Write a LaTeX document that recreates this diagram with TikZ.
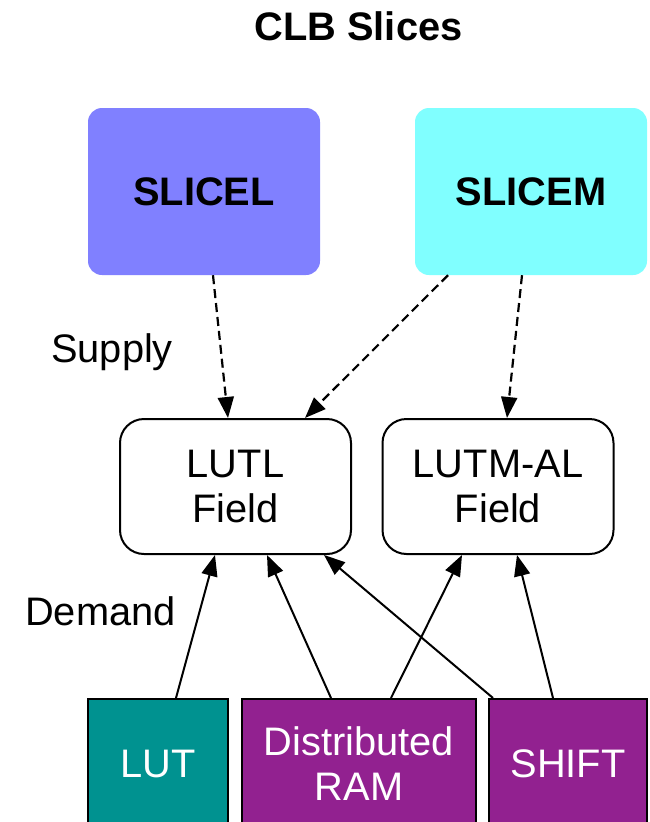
\documentclass[tikz,border=0pt]{standalone}
\usepackage{fontspec}
\setmainfont{Liberation Sans}
\usetikzlibrary{arrows.meta,calc}

\definecolor{slicelfill}{RGB}{128,128,255}
\definecolor{slicemfill}{RGB}{128,255,255}
\definecolor{lutfill}{RGB}{0,146,144}
\definecolor{ramfill}{RGB}{146,33,144}

\begin{document}
\begin{tikzpicture}[x=1pt,y=-1pt,
  txt/.style={font=\fontsize{39.8}{45}\selectfont},
  boldtxt/.style={font=\bfseries\fontsize{39.8}{45}\selectfont},
  slicebox/.style={rounded corners=14pt, minimum width=232pt, minimum height=167pt,
    inner sep=0pt, boldtxt},
  fieldbox/.style={draw, line width=2pt, rounded corners=24pt, fill=white,
    minimum width=231pt, minimum height=135pt, align=center, inner sep=0pt, txt},
  resbox/.style={draw, line width=2pt, minimum height=130pt, inner sep=0pt,
    text=white, align=center, txt},
  supplyarrow/.style={-{Triangle[length=21pt,width=16pt]}, line width=2.2pt,
    dash pattern=on 9pt off 5pt},
  demandarrow/.style={-{Triangle[length=21pt,width=16pt]}, line width=2pt},
]
\useasboundingbox (0,0) rectangle (649,822);

% heading
\node[boldtxt, anchor=base] (title) at (358.5,40) {CLB Slices};

% slice types
\node[slicebox, fill=slicelfill] (slicel) at (204,191.5) {SLICEL};
\node[slicebox, fill=slicemfill] (slicem) at (531,191.5) {SLICEM};

% LUT fields
\node[fieldbox] (lutl) at (235.5,486.5) {LUTL\\Field};
\node[fieldbox] (lutm) at (498,486.5) {LUTM-AL\\Field};

% resource kinds
\node[resbox, fill=lutfill, minimum width=140pt] (lut) at (158,764) {LUT};
\node[resbox, fill=ramfill, minimum width=234pt] (dram) at (359,764) {Distributed\\RAM};
\node[resbox, fill=ramfill, minimum width=158pt] (shift) at (568,764) {SHIFT};

% side labels
\node[txt, anchor=base west, inner sep=0pt] (supply) at (51,362) {Supply};
\node[txt, anchor=base west, inner sep=0pt] (demand) at (25,625) {Demand};

% supply edges
\draw[supplyarrow] ([xshift=9pt]slicel.south) -- ([xshift=-7.5pt]lutl.north);
\draw[supplyarrow] ([xshift=-83pt]slicem.south) -- ([xshift=69.5pt]lutl.north);
\draw[supplyarrow] ([xshift=-9pt]slicem.south) -- ([xshift=9pt]lutm.north);

% demand edges
\draw[demandarrow] ([xshift=18pt]lut.north) -- ([xshift=-20.5pt]lutl.south);
\draw[demandarrow] ([xshift=-28pt]dram.north) -- ([xshift=31.5pt]lutl.south);
\draw[demandarrow] ([xshift=32pt]dram.north) -- ([xshift=-36pt]lutm.south);
\draw[demandarrow] ([xshift=-75pt]shift.north) -- ([xshift=88.5pt]lutl.south);
\draw[demandarrow] ([xshift=-15pt]shift.north) -- ([xshift=19pt]lutm.south);
\end{tikzpicture}
\end{document}
